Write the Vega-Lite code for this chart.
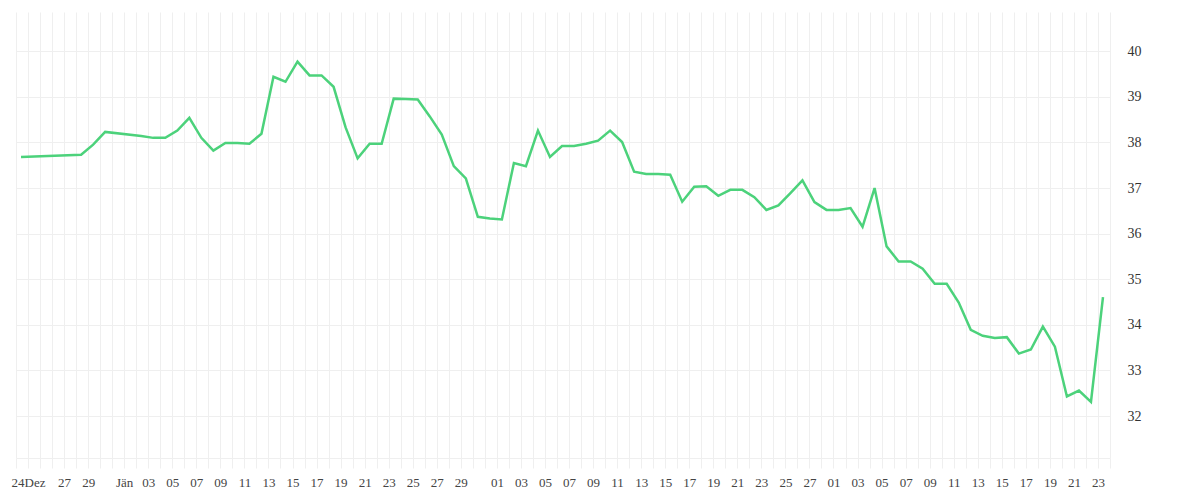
{
  "$schema": "https://vega.github.io/schema/vega-lite/v6.json",
  "autosize": "none",
  "padding": {"left": 16, "top": 12, "right": 90, "bottom": 42},
  "width": 1094,
  "height": 446,
  "background": "white",
  "config": {
    "view": {"stroke": null},
    "axis": {"labelFont": "Liberation Serif", "labelColor": "#444444"}
  },
  "data": {
    "values": [
      {"t": "2022-12-23T10:00:00", "v": 37.68},
      {"t": "2022-12-28T10:00:00", "v": 37.73},
      {"t": "2022-12-29T10:00:00", "v": 37.95},
      {"t": "2022-12-30T10:00:00", "v": 38.23},
      {"t": "2023-01-02T10:00:00", "v": 38.14},
      {"t": "2023-01-03T10:00:00", "v": 38.10},
      {"t": "2023-01-04T10:00:00", "v": 38.10},
      {"t": "2023-01-05T10:00:00", "v": 38.26},
      {"t": "2023-01-06T10:00:00", "v": 38.54},
      {"t": "2023-01-07T10:00:00", "v": 38.10},
      {"t": "2023-01-08T10:00:00", "v": 37.82},
      {"t": "2023-01-09T10:00:00", "v": 37.99},
      {"t": "2023-01-10T10:00:00", "v": 37.99},
      {"t": "2023-01-11T10:00:00", "v": 37.97},
      {"t": "2023-01-12T10:00:00", "v": 38.19},
      {"t": "2023-01-13T10:00:00", "v": 39.44},
      {"t": "2023-01-14T10:00:00", "v": 39.33},
      {"t": "2023-01-15T10:00:00", "v": 39.77},
      {"t": "2023-01-16T10:00:00", "v": 39.47},
      {"t": "2023-01-17T10:00:00", "v": 39.47},
      {"t": "2023-01-18T10:00:00", "v": 39.22},
      {"t": "2023-01-19T10:00:00", "v": 38.33},
      {"t": "2023-01-20T10:00:00", "v": 37.65},
      {"t": "2023-01-21T10:00:00", "v": 37.97},
      {"t": "2023-01-22T10:00:00", "v": 37.97},
      {"t": "2023-01-23T10:00:00", "v": 38.96},
      {"t": "2023-01-24T10:00:00", "v": 38.95},
      {"t": "2023-01-25T10:00:00", "v": 38.94},
      {"t": "2023-01-26T10:00:00", "v": 38.57},
      {"t": "2023-01-27T10:00:00", "v": 38.17},
      {"t": "2023-01-28T10:00:00", "v": 37.48},
      {"t": "2023-01-29T10:00:00", "v": 37.21},
      {"t": "2023-01-30T10:00:00", "v": 36.37},
      {"t": "2023-01-31T10:00:00", "v": 36.33},
      {"t": "2023-02-01T10:00:00", "v": 36.31},
      {"t": "2023-02-02T10:00:00", "v": 37.55},
      {"t": "2023-02-03T10:00:00", "v": 37.48},
      {"t": "2023-02-04T10:00:00", "v": 38.26},
      {"t": "2023-02-05T10:00:00", "v": 37.68},
      {"t": "2023-02-06T10:00:00", "v": 37.92},
      {"t": "2023-02-07T10:00:00", "v": 37.92},
      {"t": "2023-02-08T10:00:00", "v": 37.97},
      {"t": "2023-02-09T10:00:00", "v": 38.04},
      {"t": "2023-02-10T10:00:00", "v": 38.26},
      {"t": "2023-02-11T10:00:00", "v": 38.01},
      {"t": "2023-02-12T10:00:00", "v": 37.36},
      {"t": "2023-02-13T10:00:00", "v": 37.31},
      {"t": "2023-02-14T10:00:00", "v": 37.31},
      {"t": "2023-02-15T10:00:00", "v": 37.29},
      {"t": "2023-02-16T10:00:00", "v": 36.70},
      {"t": "2023-02-17T10:00:00", "v": 37.03},
      {"t": "2023-02-18T10:00:00", "v": 37.04},
      {"t": "2023-02-19T10:00:00", "v": 36.83},
      {"t": "2023-02-20T10:00:00", "v": 36.96},
      {"t": "2023-02-21T10:00:00", "v": 36.96},
      {"t": "2023-02-22T10:00:00", "v": 36.80},
      {"t": "2023-02-23T10:00:00", "v": 36.52},
      {"t": "2023-02-24T10:00:00", "v": 36.62},
      {"t": "2023-02-25T10:00:00", "v": 36.89},
      {"t": "2023-02-26T10:00:00", "v": 37.17},
      {"t": "2023-02-27T10:00:00", "v": 36.69},
      {"t": "2023-02-28T10:00:00", "v": 36.52},
      {"t": "2023-03-01T10:00:00", "v": 36.52},
      {"t": "2023-03-02T10:00:00", "v": 36.56},
      {"t": "2023-03-03T10:00:00", "v": 36.15},
      {"t": "2023-03-04T10:00:00", "v": 37.00},
      {"t": "2023-03-05T10:00:00", "v": 35.72},
      {"t": "2023-03-06T10:00:00", "v": 35.39},
      {"t": "2023-03-07T10:00:00", "v": 35.39},
      {"t": "2023-03-08T10:00:00", "v": 35.23},
      {"t": "2023-03-09T10:00:00", "v": 34.90},
      {"t": "2023-03-10T10:00:00", "v": 34.90},
      {"t": "2023-03-11T10:00:00", "v": 34.49},
      {"t": "2023-03-12T10:00:00", "v": 33.89},
      {"t": "2023-03-13T10:00:00", "v": 33.76},
      {"t": "2023-03-14T10:00:00", "v": 33.71},
      {"t": "2023-03-15T10:00:00", "v": 33.73},
      {"t": "2023-03-16T10:00:00", "v": 33.37},
      {"t": "2023-03-17T10:00:00", "v": 33.46},
      {"t": "2023-03-18T10:00:00", "v": 33.96},
      {"t": "2023-03-19T10:00:00", "v": 33.52},
      {"t": "2023-03-20T10:00:00", "v": 32.43},
      {"t": "2023-03-21T10:00:00", "v": 32.56},
      {"t": "2023-03-22T10:00:00", "v": 32.31},
      {"t": "2023-03-23T10:00:00", "v": 34.61}
    ]
  },
  "mark": {"type": "line", "color": "#4cd27b", "strokeWidth": 2.5, "strokeJoin": "miter"},
  "encoding": {
    "x": {
      "field": "t",
      "type": "temporal",
      "title": null,
      "scale": {
        "domain": [
          {"year": 2022, "month": 12, "date": 23},
          {"year": 2023, "month": 3, "date": 24}
        ]
      },
      "axis": {
        "tickCount": {"interval": "day", "step": 1},
        "grid": true,
        "gridColor": "#efefef",
        "tickColor": "#efefef",
        "tickSize": 10,
        "domainColor": "#efefef",
        "labelFontSize": 13,
        "labelPadding": 8,
        "labelOverlap": false,
        "labelFlush": false,
        "labelBound": false,
        "labelExpr": "month(datum.value)==11 && date(datum.value)==24 ? '24Dez' : (month(datum.value)==0 && date(datum.value)==1 ? 'Jän' : ((date(datum.value)%2==1 && date(datum.value)!=31 && !(month(datum.value)==11 && date(datum.value)<27)) ? timeFormat(datum.value, '%d') : ''))"
      }
    },
    "y": {
      "field": "v",
      "type": "quantitative",
      "title": null,
      "scale": {"domain": [31.08, 40.86], "nice": false, "zero": false},
      "axis": {
        "orient": "right",
        "values": [32, 33, 34, 35, 36, 37, 38, 39, 40],
        "grid": true,
        "gridColor": "#efefef",
        "ticks": false,
        "domain": false,
        "labelPadding": 17,
        "labelFontSize": 14,
        "labelColor": "#333333"
      }
    }
  }
}
